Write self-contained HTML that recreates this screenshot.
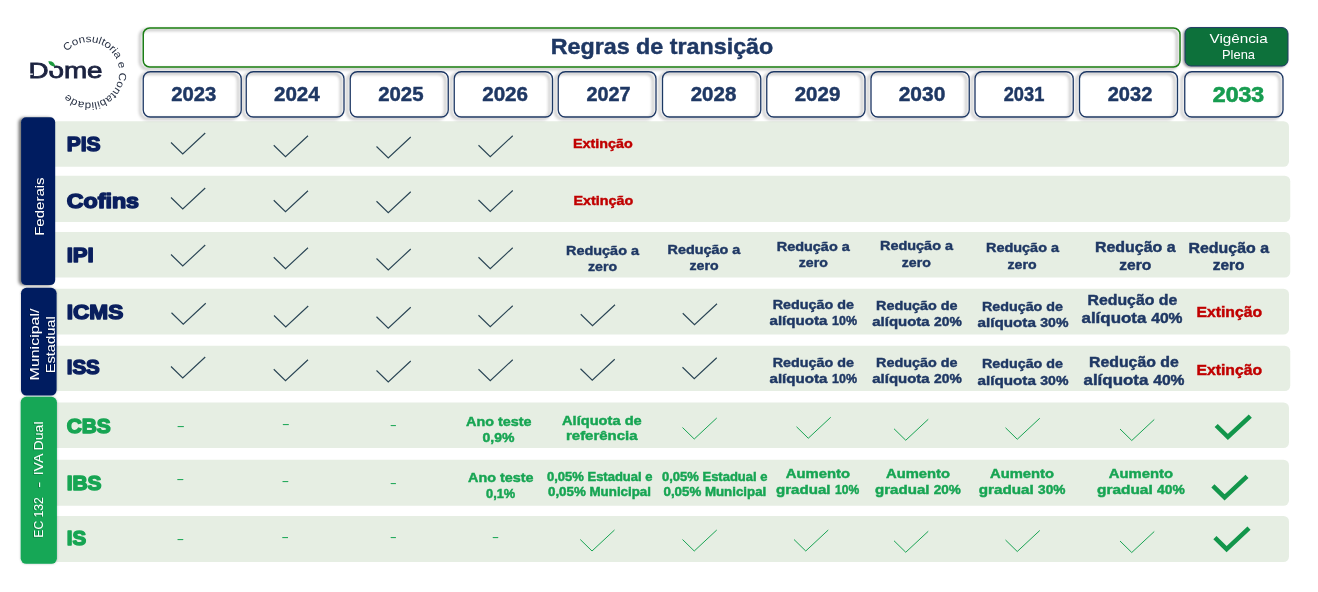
<!DOCTYPE html>
<html lang="pt-BR"><head><meta charset="utf-8"><title>Regras de transição</title>
<style>
html,body{margin:0;padding:0;background:#fff;}
body{width:1318px;height:592px;overflow:hidden;}
svg{display:block;font-family:"Liberation Sans",sans-serif;}
text{white-space:pre;}
</style></head><body>
<svg width="1318" height="592" viewBox="0 0 1318 592">
<defs>
<filter id="sh" x="-30%" y="-10%" width="160%" height="120%"><feDropShadow dx="-2.5" dy="0.4" stdDeviation="1.7" flood-color="#000" flood-opacity="0.55"/></filter>
<filter id="shb" x="-30%" y="-10%" width="160%" height="120%"><feDropShadow dx="0" dy="0" stdDeviation="0.9" flood-color="#000" flood-opacity="0.25"/></filter>
<filter id="tsh" x="-10%" y="-5%" width="120%" height="110%"><feDropShadow dx="-1" dy="0.6" stdDeviation="0.7" flood-color="#000" flood-opacity="0.3"/></filter>
<filter id="sh2" x="-10%" y="-20%" width="120%" height="140%"><feDropShadow dx="-1.5" dy="1" stdDeviation="1" flood-color="#000" flood-opacity="0.4"/></filter>
<filter id="sh3" x="-2%" y="-15%" width="104%" height="135%"><feDropShadow dx="-3" dy="1.7" stdDeviation="1.5" flood-color="#000" flood-opacity="0.4"/></filter>
</defs>
<rect width="1318" height="592" fill="#fff"/>
<rect x="45" y="121.25" width="1244" height="45.5" rx="5.5" fill="#e6eee3"/>
<rect x="45" y="175.75" width="1245.25" height="46.25" rx="5.5" fill="#e6eee3"/>
<rect x="45" y="232" width="1245.25" height="45.5" rx="5.5" fill="#e6eee3"/>
<rect x="45" y="288.75" width="1244" height="45.75" rx="5.5" fill="#e6eee3"/>
<rect x="45" y="345.75" width="1245.25" height="45.25" rx="5.5" fill="#e6eee3"/>
<rect x="45" y="402.5" width="1244" height="45.5" rx="5.5" fill="#e6eee3"/>
<rect x="45" y="459.75" width="1244" height="46.0" rx="5.5" fill="#e6eee3"/>
<rect x="45" y="516" width="1244" height="46" rx="5.5" fill="#e6eee3"/>
<g filter="url(#sh)"><rect x="21.1" y="117.2" width="34.1" height="167.9" rx="5" fill="#001f60"/></g>
<g filter="url(#shb)">
<rect x="21" y="287.8" width="35.6" height="107.7" rx="5.5" fill="#001f60"/>
<rect x="20.7" y="396.8" width="36.2" height="167" rx="5.5" fill="#13a757"/>
</g>
<g filter="url(#tsh)">
<text transform="translate(44.3,235.79999999999998) rotate(-90)" x="0" y="0" font-size="13.4" fill="#fff" textLength="58.4" lengthAdjust="spacingAndGlyphs">Federais</text>
<text transform="translate(38.6,380.4) rotate(-90)" x="0" y="0" font-size="13" fill="#fff" textLength="71.8" lengthAdjust="spacingAndGlyphs">Municipal/</text>
<text transform="translate(54.6,373.3) rotate(-90)" x="0" y="0" font-size="13" fill="#fff" textLength="57" lengthAdjust="spacingAndGlyphs">Estadual</text>
<text transform="translate(42.6,537.7) rotate(-90)" x="0" y="0" font-size="13" fill="#fff" textLength="40.5" lengthAdjust="spacingAndGlyphs">EC 132</text>
<text transform="translate(42.6,487.8) rotate(-90)" x="0" y="0" font-size="13" fill="#fff" textLength="6.2" lengthAdjust="spacingAndGlyphs">-</text>
<text transform="translate(42.6,475.3) rotate(-90)" x="0" y="0" font-size="13" fill="#fff" textLength="53.9" lengthAdjust="spacingAndGlyphs">IVA Dual</text>
</g>
<text x="66.7" y="150.65" font-size="21.0" font-weight="bold" fill="#0a1f5e" textLength="33.85" lengthAdjust="spacingAndGlyphs" stroke="#0a1f5e" stroke-width="1.5" stroke-linejoin="round">PIS</text>
<text x="66.7" y="207.9" font-size="21.0" font-weight="bold" fill="#0a1f5e" textLength="72.35" lengthAdjust="spacingAndGlyphs" stroke="#0a1f5e" stroke-width="1.5" stroke-linejoin="round">Cofins</text>
<text x="66.7" y="262.4" font-size="21.0" font-weight="bold" fill="#0a1f5e" textLength="27.1" lengthAdjust="spacingAndGlyphs" stroke="#0a1f5e" stroke-width="1.5" stroke-linejoin="round">IPI</text>
<text x="66.7" y="319.15" font-size="21.0" font-weight="bold" fill="#0a1f5e" textLength="56.6" lengthAdjust="spacingAndGlyphs" stroke="#0a1f5e" stroke-width="1.5" stroke-linejoin="round">ICMS</text>
<text x="66.7" y="374.4" font-size="21.0" font-weight="bold" fill="#0a1f5e" textLength="33.1" lengthAdjust="spacingAndGlyphs" stroke="#0a1f5e" stroke-width="1.5" stroke-linejoin="round">ISS</text>
<text x="66.7" y="432.9" font-size="21.0" font-weight="bold" fill="#17a553" textLength="44.1" lengthAdjust="spacingAndGlyphs" stroke="#17a553" stroke-width="1.5" stroke-linejoin="round">CBS</text>
<text x="66.7" y="489.9" font-size="21.0" font-weight="bold" fill="#17a553" textLength="34.85" lengthAdjust="spacingAndGlyphs" stroke="#17a553" stroke-width="1.5" stroke-linejoin="round">IBS</text>
<text x="66.7" y="545.15" font-size="21.0" font-weight="bold" fill="#17a553" textLength="19.35" lengthAdjust="spacingAndGlyphs" stroke="#17a553" stroke-width="1.5" stroke-linejoin="round">IS</text>
<g filter="url(#sh3)"><rect x="143.25" y="28" width="1036.75" height="39" rx="6.5" fill="none" stroke="#1c7d16" stroke-width="1.5"/></g>
<text x="550.7" y="54.3" font-size="22.6" font-weight="bold" fill="#1f3864" textLength="222.6" lengthAdjust="spacingAndGlyphs" stroke="#1f3864" stroke-width="0.45">Regras de transição</text>
<g filter="url(#sh2)"><rect x="1185" y="27.6" width="103" height="38.4" rx="6" fill="#0d713a" stroke="#1f3864" stroke-width="1"/></g>
<text x="1209.5" y="42.75" font-size="13.4" font-weight="normal" fill="#fff" textLength="58.25" lengthAdjust="spacingAndGlyphs" >Vigência</text>
<text x="1222" y="58.5" font-size="13.4" font-weight="normal" fill="#fff" textLength="33" lengthAdjust="spacingAndGlyphs" >Plena</text>
<g filter="url(#sh3)">
<rect x="143.25" y="71.75" width="98.0" height="45.25" rx="7" fill="none" stroke="#1f3864" stroke-width="1.3"/>
<rect x="246.25" y="71.75" width="97.75" height="45.25" rx="7" fill="none" stroke="#1f3864" stroke-width="1.3"/>
<rect x="350.25" y="71.75" width="98.0" height="45.25" rx="7" fill="none" stroke="#1f3864" stroke-width="1.3"/>
<rect x="454.25" y="71.75" width="98.25" height="45.25" rx="7" fill="none" stroke="#1f3864" stroke-width="1.3"/>
<rect x="558.25" y="71.75" width="97.75" height="45.25" rx="7" fill="none" stroke="#1f3864" stroke-width="1.3"/>
<rect x="662.5" y="71.75" width="98.25" height="45.25" rx="7" fill="none" stroke="#1f3864" stroke-width="1.3"/>
<rect x="766.75" y="71.75" width="98.25" height="45.25" rx="7" fill="none" stroke="#1f3864" stroke-width="1.3"/>
<rect x="871.0" y="71.75" width="98.25" height="45.25" rx="7" fill="none" stroke="#1f3864" stroke-width="1.3"/>
<rect x="975.0" y="71.75" width="98.25" height="45.25" rx="7" fill="none" stroke="#1f3864" stroke-width="1.3"/>
<rect x="1079.5" y="71.75" width="98" height="45.25" rx="7" fill="none" stroke="#1f3864" stroke-width="1.3"/>
<rect x="1184.75" y="71.75" width="98.25" height="45.25" rx="7" fill="none" stroke="#1f3864" stroke-width="1.3"/>
</g>
<text x="171.2" y="100.5" font-size="19.9" font-weight="bold" fill="#1f3864" textLength="45.1" lengthAdjust="spacingAndGlyphs" stroke="#1f3864" stroke-width="0.45">2023</text>
<text x="273.95" y="100.5" font-size="19.9" font-weight="bold" fill="#1f3864" textLength="45.85" lengthAdjust="spacingAndGlyphs" stroke="#1f3864" stroke-width="0.45">2024</text>
<text x="378.2" y="100.5" font-size="19.9" font-weight="bold" fill="#1f3864" textLength="45.35" lengthAdjust="spacingAndGlyphs" stroke="#1f3864" stroke-width="0.45">2025</text>
<text x="482.2" y="100.5" font-size="19.9" font-weight="bold" fill="#1f3864" textLength="45.85" lengthAdjust="spacingAndGlyphs" stroke="#1f3864" stroke-width="0.45">2026</text>
<text x="586.45" y="100.5" font-size="19.9" font-weight="bold" fill="#1f3864" textLength="44.1" lengthAdjust="spacingAndGlyphs" stroke="#1f3864" stroke-width="0.45">2027</text>
<text x="690.7" y="100.5" font-size="19.9" font-weight="bold" fill="#1f3864" textLength="45.6" lengthAdjust="spacingAndGlyphs" stroke="#1f3864" stroke-width="0.45">2028</text>
<text x="794.7" y="100.5" font-size="19.9" font-weight="bold" fill="#1f3864" textLength="45.6" lengthAdjust="spacingAndGlyphs" stroke="#1f3864" stroke-width="0.45">2029</text>
<text x="898.7" y="100.5" font-size="19.9" font-weight="bold" fill="#1f3864" textLength="46.6" lengthAdjust="spacingAndGlyphs" stroke="#1f3864" stroke-width="0.45">2030</text>
<text x="1003.7" y="100.5" font-size="19.9" font-weight="bold" fill="#1f3864" textLength="40.6" lengthAdjust="spacingAndGlyphs" stroke="#1f3864" stroke-width="0.45">2031</text>
<text x="1107.7" y="100.5" font-size="19.9" font-weight="bold" fill="#1f3864" textLength="44.6" lengthAdjust="spacingAndGlyphs" stroke="#1f3864" stroke-width="0.45">2032</text>
<text x="1212.8" y="102.3" font-size="22" font-weight="bold" fill="#179c50" textLength="51.4" lengthAdjust="spacingAndGlyphs" stroke="#179c50" stroke-width="0.7">2033</text>
<path d="M171.0 142.5L182.75 154L205.25 133" fill="none" stroke="#2a4555" stroke-width="1.15" stroke-linejoin="miter"/>
<path d="M273.75 145.25L285.5 156.75L308.0 135.75" fill="none" stroke="#2a4555" stroke-width="1.15" stroke-linejoin="miter"/>
<path d="M376.5 146.5L388.25 158L410.75 137" fill="none" stroke="#2a4555" stroke-width="1.15" stroke-linejoin="miter"/>
<path d="M478.5 145.25L490.25 156.75L512.75 135.75" fill="none" stroke="#2a4555" stroke-width="1.15" stroke-linejoin="miter"/>
<path d="M171.0 197.5L182.75 209L205.25 188" fill="none" stroke="#2a4555" stroke-width="1.15" stroke-linejoin="miter"/>
<path d="M273.75 200.25L285.5 211.75L308.0 190.75" fill="none" stroke="#2a4555" stroke-width="1.15" stroke-linejoin="miter"/>
<path d="M376.5 201.25L388.25 212.75L410.75 191.75" fill="none" stroke="#2a4555" stroke-width="1.15" stroke-linejoin="miter"/>
<path d="M478.5 200.0L490.25 211.5L512.75 190.5" fill="none" stroke="#2a4555" stroke-width="1.15" stroke-linejoin="miter"/>
<path d="M171.0 254.5L182.75 266L205.25 245" fill="none" stroke="#2a4555" stroke-width="1.15" stroke-linejoin="miter"/>
<path d="M273.75 257.25L285.5 268.75L308.0 247.75" fill="none" stroke="#2a4555" stroke-width="1.15" stroke-linejoin="miter"/>
<path d="M376.5 258.5L388.25 270L410.75 249" fill="none" stroke="#2a4555" stroke-width="1.15" stroke-linejoin="miter"/>
<path d="M478.5 257.25L490.25 268.75L512.75 247.75" fill="none" stroke="#2a4555" stroke-width="1.15" stroke-linejoin="miter"/>
<path d="M171.5 312.75L183.25 324.25L205.75 303.25" fill="none" stroke="#2a4555" stroke-width="1.15" stroke-linejoin="miter"/>
<path d="M274.0 315.5L285.75 327L308.25 306" fill="none" stroke="#2a4555" stroke-width="1.15" stroke-linejoin="miter"/>
<path d="M376.5 316.75L388.25 328.25L410.75 307.25" fill="none" stroke="#2a4555" stroke-width="1.15" stroke-linejoin="miter"/>
<path d="M478.5 315.25L490.25 326.75L512.75 305.75" fill="none" stroke="#2a4555" stroke-width="1.15" stroke-linejoin="miter"/>
<path d="M580.75 314.25L592.5 325.75L615.0 304.75" fill="none" stroke="#2a4555" stroke-width="1.15" stroke-linejoin="miter"/>
<path d="M682.75 313.25L694.5 324.75L717.0 303.75" fill="none" stroke="#2a4555" stroke-width="1.15" stroke-linejoin="miter"/>
<path d="M171.0 366.5L182.75 378L205.25 357" fill="none" stroke="#2a4555" stroke-width="1.15" stroke-linejoin="miter"/>
<path d="M273.75 369.25L285.5 380.75L308.0 359.75" fill="none" stroke="#2a4555" stroke-width="1.15" stroke-linejoin="miter"/>
<path d="M376.5 370.5L388.25 382L410.75 361" fill="none" stroke="#2a4555" stroke-width="1.15" stroke-linejoin="miter"/>
<path d="M478.5 369.25L490.25 380.75L512.75 359.75" fill="none" stroke="#2a4555" stroke-width="1.15" stroke-linejoin="miter"/>
<path d="M580.5 368.75L592.25 380.25L614.75 359.25" fill="none" stroke="#2a4555" stroke-width="1.15" stroke-linejoin="miter"/>
<path d="M682.5 367.25L694.25 378.75L716.75 357.75" fill="none" stroke="#2a4555" stroke-width="1.15" stroke-linejoin="miter"/>
<path d="M682.5 427.5L694.25 439L716.75 418" fill="none" stroke="#1aa454" stroke-width="1.0" stroke-linejoin="miter"/>
<path d="M796.5 426.75L808.25 438.25L830.75 417.25" fill="none" stroke="#1aa454" stroke-width="1.0" stroke-linejoin="miter"/>
<path d="M894.0 428.75L905.75 440.25L928.25 419.25" fill="none" stroke="#1aa454" stroke-width="1.0" stroke-linejoin="miter"/>
<path d="M1005.5 427.75L1017.25 439.25L1039.75 418.25" fill="none" stroke="#1aa454" stroke-width="1.0" stroke-linejoin="miter"/>
<path d="M1120.0 429.0L1131.75 440.5L1154.25 419.5" fill="none" stroke="#1aa454" stroke-width="1.0" stroke-linejoin="miter"/>
<path d="M580.25 539.5L592 551L614.5 530" fill="none" stroke="#1aa454" stroke-width="1.0" stroke-linejoin="miter"/>
<path d="M682.5 539.5L694.25 551L716.75 530" fill="none" stroke="#1aa454" stroke-width="1.0" stroke-linejoin="miter"/>
<path d="M794.0 539.5L805.75 551L828.25 530" fill="none" stroke="#1aa454" stroke-width="1.0" stroke-linejoin="miter"/>
<path d="M894.0 540.75L905.75 552.25L928.25 531.25" fill="none" stroke="#1aa454" stroke-width="1.0" stroke-linejoin="miter"/>
<path d="M1005.5 540.0L1017.25 551.5L1039.75 530.5" fill="none" stroke="#1aa454" stroke-width="1.0" stroke-linejoin="miter"/>
<path d="M1120.0 541.0L1131.75 552.5L1154.25 531.5" fill="none" stroke="#1aa454" stroke-width="1.0" stroke-linejoin="miter"/>
<path d="M1216.2 425.5L1227.9 437L1250.3 416.1" fill="none" stroke="#12964b" stroke-width="4.5" stroke-linejoin="miter"/>
<path d="M1212.9 485.85L1224.6000000000001 497.35L1247.0 476.45000000000005" fill="none" stroke="#12964b" stroke-width="4.5" stroke-linejoin="miter"/>
<path d="M1214.9 537.6L1226.6000000000001 549.1L1249.0 528.2" fill="none" stroke="#12964b" stroke-width="4.5" stroke-linejoin="miter"/>
<text x="176.63" y="430.0" font-size="13" textLength="8.49" lengthAdjust="spacingAndGlyphs" fill="#17a553">-</text>
<text x="281.67" y="427.5" font-size="13" textLength="8.16" lengthAdjust="spacingAndGlyphs" fill="#17a553">-</text>
<text x="389.81" y="429.0" font-size="13" textLength="7.14" lengthAdjust="spacingAndGlyphs" fill="#17a553">-</text>
<text x="176.17" y="482.75" font-size="13" textLength="8.16" lengthAdjust="spacingAndGlyphs" fill="#17a553">-</text>
<text x="281.47" y="485.25" font-size="13" textLength="7.82" lengthAdjust="spacingAndGlyphs" fill="#17a553">-</text>
<text x="389.81" y="486.75" font-size="13" textLength="7.14" lengthAdjust="spacingAndGlyphs" fill="#17a553">-</text>
<text x="176.47" y="542.75" font-size="13" textLength="7.82" lengthAdjust="spacingAndGlyphs" fill="#17a553">-</text>
<text x="281.22" y="540.75" font-size="13" textLength="7.82" lengthAdjust="spacingAndGlyphs" fill="#17a553">-</text>
<text x="389.81" y="540.5" font-size="13" textLength="7.14" lengthAdjust="spacingAndGlyphs" fill="#17a553">-</text>
<text x="491.76" y="541.25" font-size="13" textLength="7.48" lengthAdjust="spacingAndGlyphs" fill="#17a553">-</text>
<text x="573" y="148.25" font-size="13.7" font-weight="bold" fill="#c00000" textLength="59.75" lengthAdjust="spacingAndGlyphs" stroke="#c00000" stroke-width="0.45">Extinção</text>
<text x="573.5" y="205" font-size="13.7" font-weight="bold" fill="#c00000" textLength="59.75" lengthAdjust="spacingAndGlyphs" stroke="#c00000" stroke-width="0.45">Extinção</text>
<text x="1196.5" y="317" font-size="15.1" font-weight="bold" fill="#c00000" textLength="65.5" lengthAdjust="spacingAndGlyphs" stroke="#c00000" stroke-width="0.45">Extinção</text>
<text x="1196.5" y="374.5" font-size="15.1" font-weight="bold" fill="#c00000" textLength="65.5" lengthAdjust="spacingAndGlyphs" stroke="#c00000" stroke-width="0.45">Extinção</text>
<text x="566" y="254.75" font-size="13.7" font-weight="bold" fill="#1f3864" textLength="73" lengthAdjust="spacingAndGlyphs" stroke="#1f3864" stroke-width="0.45">Redução a</text>
<text x="588" y="271.25" font-size="13.7" font-weight="bold" fill="#1f3864" textLength="29" lengthAdjust="spacingAndGlyphs" stroke="#1f3864" stroke-width="0.45">zero</text>
<text x="667.5" y="253.5" font-size="13.7" font-weight="bold" fill="#1f3864" textLength="72.75" lengthAdjust="spacingAndGlyphs" stroke="#1f3864" stroke-width="0.45">Redução a</text>
<text x="689.5" y="269.75" font-size="13.7" font-weight="bold" fill="#1f3864" textLength="29.0" lengthAdjust="spacingAndGlyphs" stroke="#1f3864" stroke-width="0.45">zero</text>
<text x="776.75" y="250.75" font-size="13.7" font-weight="bold" fill="#1f3864" textLength="73.0" lengthAdjust="spacingAndGlyphs" stroke="#1f3864" stroke-width="0.45">Redução a</text>
<text x="798.75" y="267.25" font-size="13.7" font-weight="bold" fill="#1f3864" textLength="29.0" lengthAdjust="spacingAndGlyphs" stroke="#1f3864" stroke-width="0.45">zero</text>
<text x="880" y="250.25" font-size="13.7" font-weight="bold" fill="#1f3864" textLength="73" lengthAdjust="spacingAndGlyphs" stroke="#1f3864" stroke-width="0.45">Redução a</text>
<text x="901.75" y="266.75" font-size="13.7" font-weight="bold" fill="#1f3864" textLength="29.0" lengthAdjust="spacingAndGlyphs" stroke="#1f3864" stroke-width="0.45">zero</text>
<text x="986" y="251.75" font-size="13.7" font-weight="bold" fill="#1f3864" textLength="73" lengthAdjust="spacingAndGlyphs" stroke="#1f3864" stroke-width="0.45">Redução a</text>
<text x="1007.5" y="268.5" font-size="13.7" font-weight="bold" fill="#1f3864" textLength="29.0" lengthAdjust="spacingAndGlyphs" stroke="#1f3864" stroke-width="0.45">zero</text>
<text x="1095" y="252" font-size="15.1" font-weight="bold" fill="#1f3864" textLength="80.5" lengthAdjust="spacingAndGlyphs" stroke="#1f3864" stroke-width="0.45">Redução a</text>
<text x="1119.25" y="270" font-size="15.1" font-weight="bold" fill="#1f3864" textLength="32.0" lengthAdjust="spacingAndGlyphs" stroke="#1f3864" stroke-width="0.45">zero</text>
<text x="1188.5" y="252.75" font-size="15.1" font-weight="bold" fill="#1f3864" textLength="80.5" lengthAdjust="spacingAndGlyphs" stroke="#1f3864" stroke-width="0.45">Redução a</text>
<text x="1212.75" y="270.25" font-size="15.1" font-weight="bold" fill="#1f3864" textLength="31.75" lengthAdjust="spacingAndGlyphs" stroke="#1f3864" stroke-width="0.45">zero</text>
<text x="772.75" y="309" font-size="13.7" font-weight="bold" fill="#1f3864" textLength="81.25" lengthAdjust="spacingAndGlyphs" stroke="#1f3864" stroke-width="0.45">Redução de</text>
<text x="769.5" y="325.25" font-size="13.7" font-weight="bold" fill="#1f3864" textLength="57.92" lengthAdjust="spacingAndGlyphs" stroke="#1f3864" stroke-width="0.45">alíquota</text>
<text x="832.0625" y="325.25" font-size="13.7" font-weight="bold" fill="#1f3864" textLength="24.94" lengthAdjust="spacingAndGlyphs" stroke="#1f3864" stroke-width="0.45">10%</text>
<text x="876" y="309.5" font-size="13.7" font-weight="bold" fill="#1f3864" textLength="81.5" lengthAdjust="spacingAndGlyphs" stroke="#1f3864" stroke-width="0.45">Redução de</text>
<text x="872.25" y="325.75" font-size="13.7" font-weight="bold" fill="#1f3864" textLength="57.46" lengthAdjust="spacingAndGlyphs" stroke="#1f3864" stroke-width="0.45">alíquota</text>
<text x="934.005" y="325.75" font-size="13.7" font-weight="bold" fill="#1f3864" textLength="27.75" lengthAdjust="spacingAndGlyphs" stroke="#1f3864" stroke-width="0.45">20%</text>
<text x="982" y="311" font-size="13.7" font-weight="bold" fill="#1f3864" textLength="81" lengthAdjust="spacingAndGlyphs" stroke="#1f3864" stroke-width="0.45">Redução de</text>
<text x="977.5" y="327.25" font-size="13.7" font-weight="bold" fill="#1f3864" textLength="58.42" lengthAdjust="spacingAndGlyphs" stroke="#1f3864" stroke-width="0.45">alíquota</text>
<text x="1040.29" y="327.25" font-size="13.7" font-weight="bold" fill="#1f3864" textLength="28.21" lengthAdjust="spacingAndGlyphs" stroke="#1f3864" stroke-width="0.45">30%</text>
<text x="1087.5" y="304.5" font-size="15.1" font-weight="bold" fill="#1f3864" textLength="89.75" lengthAdjust="spacingAndGlyphs" stroke="#1f3864" stroke-width="0.45">Redução de</text>
<text x="1081.5" y="322.75" font-size="15.1" font-weight="bold" fill="#1f3864" textLength="64.84" lengthAdjust="spacingAndGlyphs" stroke="#1f3864" stroke-width="0.45">alíquota</text>
<text x="1151.19" y="322.75" font-size="15.1" font-weight="bold" fill="#1f3864" textLength="31.31" lengthAdjust="spacingAndGlyphs" stroke="#1f3864" stroke-width="0.45">40%</text>
<text x="772.75" y="366.75" font-size="13.7" font-weight="bold" fill="#1f3864" textLength="81.25" lengthAdjust="spacingAndGlyphs" stroke="#1f3864" stroke-width="0.45">Redução de</text>
<text x="769.5" y="383.25" font-size="13.7" font-weight="bold" fill="#1f3864" textLength="57.92" lengthAdjust="spacingAndGlyphs" stroke="#1f3864" stroke-width="0.45">alíquota</text>
<text x="832.0625" y="383.25" font-size="13.7" font-weight="bold" fill="#1f3864" textLength="24.94" lengthAdjust="spacingAndGlyphs" stroke="#1f3864" stroke-width="0.45">10%</text>
<text x="876" y="366.75" font-size="13.7" font-weight="bold" fill="#1f3864" textLength="81.5" lengthAdjust="spacingAndGlyphs" stroke="#1f3864" stroke-width="0.45">Redução de</text>
<text x="872.25" y="383.25" font-size="13.7" font-weight="bold" fill="#1f3864" textLength="57.46" lengthAdjust="spacingAndGlyphs" stroke="#1f3864" stroke-width="0.45">alíquota</text>
<text x="934.005" y="383.25" font-size="13.7" font-weight="bold" fill="#1f3864" textLength="27.75" lengthAdjust="spacingAndGlyphs" stroke="#1f3864" stroke-width="0.45">20%</text>
<text x="982" y="368.25" font-size="13.7" font-weight="bold" fill="#1f3864" textLength="81" lengthAdjust="spacingAndGlyphs" stroke="#1f3864" stroke-width="0.45">Redução de</text>
<text x="977.5" y="384.75" font-size="13.7" font-weight="bold" fill="#1f3864" textLength="58.42" lengthAdjust="spacingAndGlyphs" stroke="#1f3864" stroke-width="0.45">alíquota</text>
<text x="1040.29" y="384.75" font-size="13.7" font-weight="bold" fill="#1f3864" textLength="28.21" lengthAdjust="spacingAndGlyphs" stroke="#1f3864" stroke-width="0.45">30%</text>
<text x="1089" y="367" font-size="15.1" font-weight="bold" fill="#1f3864" textLength="89.75" lengthAdjust="spacingAndGlyphs" stroke="#1f3864" stroke-width="0.45">Redução de</text>
<text x="1083.5" y="384.75" font-size="15.1" font-weight="bold" fill="#1f3864" textLength="64.84" lengthAdjust="spacingAndGlyphs" stroke="#1f3864" stroke-width="0.45">alíquota</text>
<text x="1153.19" y="384.75" font-size="15.1" font-weight="bold" fill="#1f3864" textLength="31.31" lengthAdjust="spacingAndGlyphs" stroke="#1f3864" stroke-width="0.45">40%</text>
<text x="466" y="425.5" font-size="13.7" font-weight="bold" fill="#17a553" textLength="65.5" lengthAdjust="spacingAndGlyphs" stroke="#17a553" stroke-width="0.45">Ano teste</text>
<text x="482.5" y="441.75" font-size="13.7" font-weight="bold" fill="#17a553" textLength="32.0" lengthAdjust="spacingAndGlyphs" stroke="#17a553" stroke-width="0.45">0,9%</text>
<text x="562" y="424.5" font-size="13.7" font-weight="bold" fill="#17a553" textLength="79.75" lengthAdjust="spacingAndGlyphs" stroke="#17a553" stroke-width="0.45">Alíquota de</text>
<text x="566" y="440.25" font-size="13.7" font-weight="bold" fill="#17a553" textLength="71.5" lengthAdjust="spacingAndGlyphs" stroke="#17a553" stroke-width="0.45">referência</text>
<text x="468" y="481.5" font-size="13.7" font-weight="bold" fill="#17a553" textLength="65.5" lengthAdjust="spacingAndGlyphs" stroke="#17a553" stroke-width="0.45">Ano teste</text>
<text x="486" y="498" font-size="13.7" font-weight="bold" fill="#17a553" textLength="29.25" lengthAdjust="spacingAndGlyphs" stroke="#17a553" stroke-width="0.45">0,1%</text>
<text x="547" y="481" font-size="12.2" font-weight="bold" fill="#17a553" textLength="105.5" lengthAdjust="spacingAndGlyphs" stroke="#17a553" stroke-width="0.45">0,05% Estadual e</text>
<text x="548" y="495.75" font-size="12.2" font-weight="bold" fill="#17a553" textLength="103" lengthAdjust="spacingAndGlyphs" stroke="#17a553" stroke-width="0.45">0,05% Municipal</text>
<text x="662" y="481" font-size="12.2" font-weight="bold" fill="#17a553" textLength="105.5" lengthAdjust="spacingAndGlyphs" stroke="#17a553" stroke-width="0.45">0,05% Estadual e</text>
<text x="663.5" y="496" font-size="12.2" font-weight="bold" fill="#17a553" textLength="102.75" lengthAdjust="spacingAndGlyphs" stroke="#17a553" stroke-width="0.45">0,05% Municipal</text>
<text x="785.75" y="477.75" font-size="13.7" font-weight="bold" fill="#17a553" textLength="64.25" lengthAdjust="spacingAndGlyphs" stroke="#17a553" stroke-width="0.45">Aumento</text>
<text x="776" y="494" font-size="13.7" font-weight="bold" fill="#17a553" textLength="54.53" lengthAdjust="spacingAndGlyphs" stroke="#17a553" stroke-width="0.45">gradual</text>
<text x="835.0242499999999" y="494" font-size="13.7" font-weight="bold" fill="#17a553" textLength="24.23" lengthAdjust="spacingAndGlyphs" stroke="#17a553" stroke-width="0.45">10%</text>
<text x="886" y="477.75" font-size="13.7" font-weight="bold" fill="#17a553" textLength="64" lengthAdjust="spacingAndGlyphs" stroke="#17a553" stroke-width="0.45">Aumento</text>
<text x="875" y="494" font-size="13.7" font-weight="bold" fill="#17a553" textLength="54.45" lengthAdjust="spacingAndGlyphs" stroke="#17a553" stroke-width="0.45">gradual</text>
<text x="933.653" y="494" font-size="13.7" font-weight="bold" fill="#17a553" textLength="27.1" lengthAdjust="spacingAndGlyphs" stroke="#17a553" stroke-width="0.45">20%</text>
<text x="990" y="477.75" font-size="13.7" font-weight="bold" fill="#17a553" textLength="64" lengthAdjust="spacingAndGlyphs" stroke="#17a553" stroke-width="0.45">Aumento</text>
<text x="978.75" y="494" font-size="13.7" font-weight="bold" fill="#17a553" textLength="55.09" lengthAdjust="spacingAndGlyphs" stroke="#17a553" stroke-width="0.45">gradual</text>
<text x="1038.087" y="494" font-size="13.7" font-weight="bold" fill="#17a553" textLength="27.41" lengthAdjust="spacingAndGlyphs" stroke="#17a553" stroke-width="0.45">30%</text>
<text x="1108.75" y="477.75" font-size="13.7" font-weight="bold" fill="#17a553" textLength="64.25" lengthAdjust="spacingAndGlyphs" stroke="#17a553" stroke-width="0.45">Aumento</text>
<text x="1097" y="494" font-size="13.7" font-weight="bold" fill="#17a553" textLength="55.72" lengthAdjust="spacingAndGlyphs" stroke="#17a553" stroke-width="0.45">gradual</text>
<text x="1157.021" y="494" font-size="13.7" font-weight="bold" fill="#17a553" textLength="27.73" lengthAdjust="spacingAndGlyphs" stroke="#17a553" stroke-width="0.45">40%</text>
<text x="28.4" y="77.8" font-size="22.4" font-weight="normal" fill="#1c2340" textLength="74.2" lengthAdjust="spacingAndGlyphs" stroke="#1c2340" stroke-width="0.8">Dome</text>
<path d="M54.6 71 L48.3 70.6 L48.3 63.5 L53 61.2 Z" fill="#fff"/>
<path d="M48.3 61.3 C51.6 60.6 54.6 62.4 55.3 66.3 C52 66.9 49 65 48.3 61.3 Z" fill="#1d9a3e"/>
<rect x="28.5" y="73.5" width="4.4" height="1.3" fill="#fff"/>
<path id="circ" d="M66.84 51.74 A30.3 30.3 0 1 1 67.95 94.20" fill="none"/>
<text font-size="10.4" fill="#2a3346"><textPath href="#circ" textLength="143.3" lengthAdjust="spacingAndGlyphs">Consultoria e Contabilidade</textPath></text>
</svg>
</body></html>
